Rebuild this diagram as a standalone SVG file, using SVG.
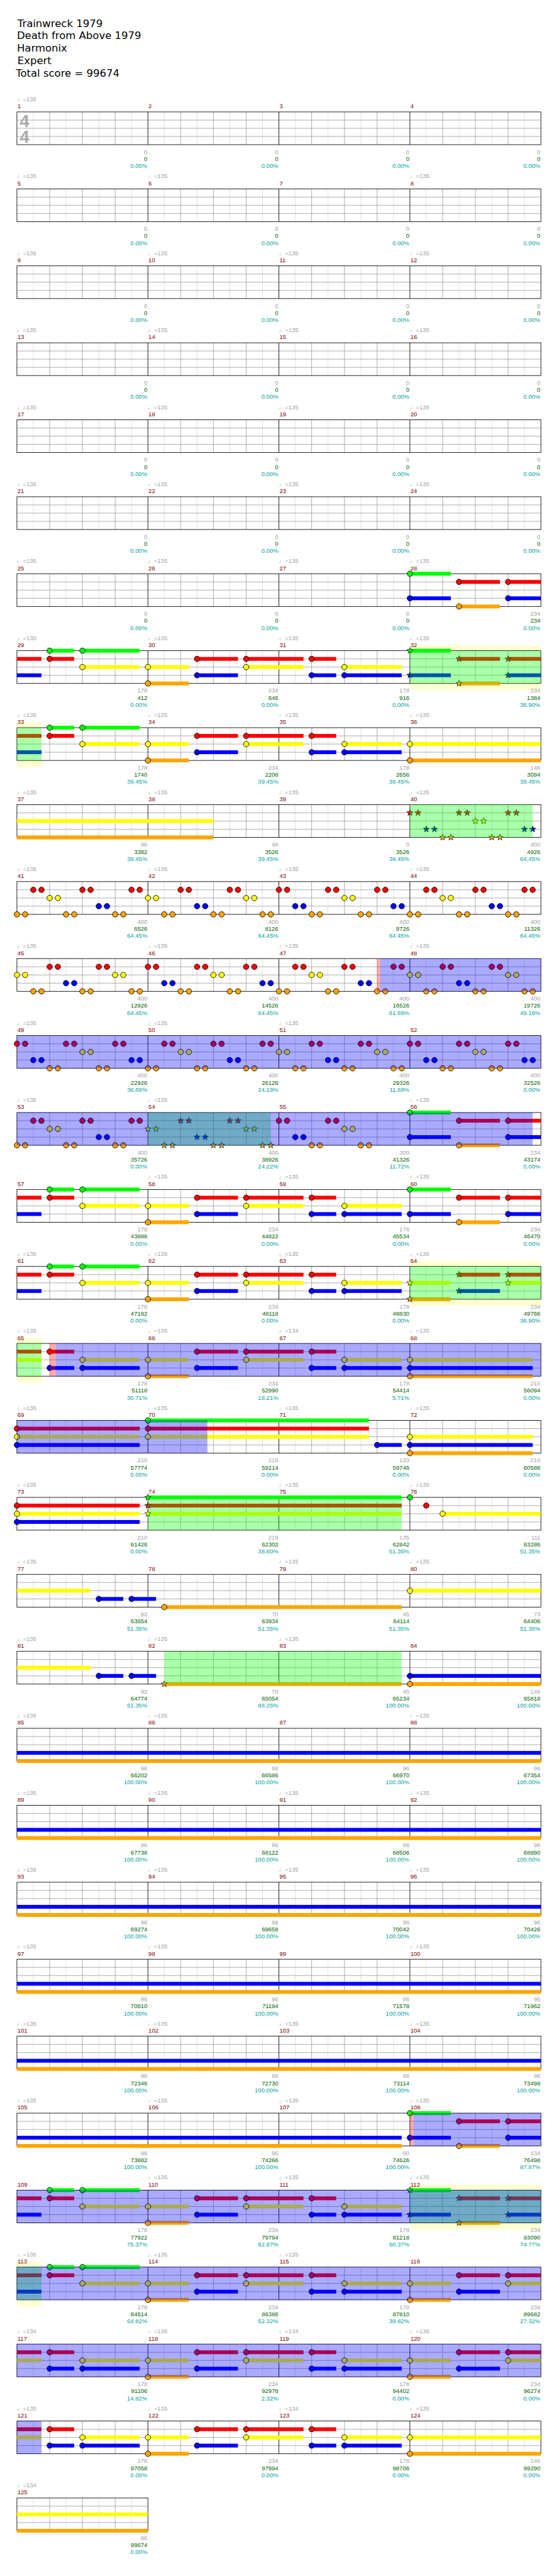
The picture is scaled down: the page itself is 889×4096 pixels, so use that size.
<svg xmlns="http://www.w3.org/2000/svg" width="889" height="4096" viewBox="0 0 889 4096">
<style>
text{font-family:"Liberation Sans","DejaVu Sans",sans-serif;font-size:11px}
.ti{font-family:"DejaVu Sans",sans-serif;font-size:19px;fill:#000}
.t{fill:#a0a0a0}
.m{fill:#800000}
.a{fill:#a0a0a0;text-anchor:end}
.b{fill:#006400;text-anchor:end}
.c{fill:#00a0a0;text-anchor:end}
.ts{font-size:32px;font-weight:bold;fill:#aaa}
.G{fill:#00ff00}.R{fill:#ff0000}.Y{fill:#ffff00}.B{fill:#0000ff}.O{fill:#ffa500}
.sp{fill:#00ff00;fill-opacity:.3333}
.od{fill:#0000ff;fill-opacity:.3333}
.pk{fill:#ff0000;fill-opacity:.3333}
.bd{fill:#ffffd0}
.hl{stroke:#dcdcdc;fill:none}
.bl{stroke:#a0a0a0;fill:none}
.ml{stroke:#000;fill:none}
</style>
<defs>
<circle id="n" r="5" stroke="#000" stroke-width="1"/>
<path id="s" d="M0,-6L1.47,-2.02L5.71,-1.85L2.38,0.77L3.53,4.85L0,2.5L-3.53,4.85L-2.38,0.77L-5.71,-1.85L-1.47,-2.02Z" stroke="#000" stroke-width="0.8"/>
<g id="st4">
<path class="hl" d="M61 0V60M121 0V60M181 0V60M241 0V60M301 0V60M361 0V60M421 0V60M481 0V60M541 0V60M601 0V60M661 0V60M721 0V60M781 0V60M841 0V60M901 0V60M961 0V60"/>
<path class="bl" d="M91 0V60M151 0V60M211 0V60M331 0V60M391 0V60M451 0V60M571 0V60M631 0V60M691 0V60M811 0V60M871 0V60M931 0V60M31 15H991M31 30H991M31 45H991"/>
<path class="ml" d="M271 0V60M511 0V60M751 0V60"/>
<rect class="ml" x="31" y="0" width="960" height="60"/>
</g>
<g id="st1">
<path class="hl" d="M61 0V60M121 0V60M181 0V60M241 0V60"/>
<path class="bl" d="M91 0V60M151 0V60M211 0V60M31 15H271M31 30H271M31 45H271"/>
<rect class="ml" x="31" y="0" width="240" height="60"/>
</g>
<g id="pO" class="O"><use href="#n" y="60"/><use href="#n" x="15" y="60"/></g>
<g id="pR" class="R"><use href="#n" y="15"/><use href="#n" x="15" y="15"/></g>
<g id="pY" class="Y"><use href="#n" y="30"/><use href="#n" x="15" y="30"/></g>
<g id="pB" class="B"><use href="#n" y="45"/><use href="#n" x="15" y="45"/></g>
<g id="qO" class="O"><use href="#s" y="60"/><use href="#s" x="15" y="60"/></g>
<g id="qR" class="R"><use href="#s" y="15"/><use href="#s" x="15" y="15"/></g>
<g id="qY" class="Y"><use href="#s" y="30"/><use href="#s" x="15" y="30"/></g>
<g id="qB" class="B"><use href="#s" y="45"/><use href="#s" x="15" y="45"/></g>
<g id="cRB"><rect class="R" x="31" y="11.5" width="45" height="7"/><rect class="B" x="31" y="41.5" width="45" height="7"/></g>
<g id="cRY"><rect class="R" x="31" y="11.5" width="45" height="7"/><rect class="Y" x="31" y="26.5" width="45" height="7"/></g>
<g id="h1">
<rect class="G" x="91" y="-3.5" width="45" height="7"/><rect class="R" x="91" y="11.5" width="45" height="7"/>
<rect class="G" x="151" y="-3.5" width="105" height="7"/><rect class="Y" x="151" y="26.5" width="105" height="7"/>
<use href="#n" class="G" x="91" y="0"/><use href="#n" class="R" x="91" y="15"/>
<use href="#n" class="G" x="151" y="0"/><use href="#n" class="Y" x="151" y="30"/>
</g>
<g id="h2">
<rect class="R" x="91" y="11.5" width="45" height="7"/><rect class="B" x="91" y="41.5" width="45" height="7"/>
<rect class="Y" x="151" y="26.5" width="105" height="7"/><rect class="B" x="151" y="41.5" width="105" height="7"/>
<use href="#n" class="R" x="91" y="15"/><use href="#n" class="B" x="91" y="45"/>
<use href="#n" class="Y" x="151" y="30"/><use href="#n" class="B" x="151" y="45"/>
</g>
<g id="b0">
<rect class="Y" x="271" y="26.5" width="75" height="7"/><rect class="O" x="271" y="56.5" width="75" height="7"/>
<rect class="R" x="361" y="11.5" width="75" height="7"/><rect class="B" x="361" y="41.5" width="75" height="7"/>
<rect class="R" x="451" y="11.5" width="105" height="7"/><rect class="Y" x="451" y="26.5" width="105" height="7"/>
<rect class="R" x="571" y="11.5" width="45" height="7"/><rect class="B" x="571" y="41.5" width="45" height="7"/>
<rect class="Y" x="631" y="26.5" width="105" height="7"/><rect class="B" x="631" y="41.5" width="105" height="7"/>
<use href="#n" class="Y" x="271" y="30"/><use href="#n" class="O" x="271" y="60"/>
<use href="#n" class="R" x="361" y="15"/><use href="#n" class="B" x="361" y="45"/>
<use href="#n" class="R" x="451" y="15"/><use href="#n" class="Y" x="451" y="30"/>
<use href="#n" class="R" x="571" y="15"/><use href="#n" class="B" x="571" y="45"/>
<use href="#n" class="Y" x="631" y="30"/><use href="#n" class="B" x="631" y="45"/>
</g>
<g id="e1b">
<rect class="G" x="751" y="-3.5" width="75" height="7"/><rect class="B" x="751" y="41.5" width="75" height="7"/>
<rect class="R" x="841" y="11.5" width="75" height="7"/><rect class="O" x="841" y="56.5" width="75" height="7"/>
<rect class="R" x="931" y="11.5" width="60" height="7"/><rect class="B" x="931" y="41.5" width="60" height="7"/>
</g>
<g id="e1n">
<use href="#n" class="G" x="751" y="0"/><use href="#n" class="B" x="751" y="45"/>
<use href="#n" class="R" x="841" y="15"/><use href="#n" class="O" x="841" y="60"/>
<use href="#n" class="R" x="931" y="15"/><use href="#n" class="B" x="931" y="45"/>
</g>
<g id="e1s">
<use href="#s" class="G" x="751" y="0"/><use href="#s" class="B" x="751" y="45"/>
<use href="#s" class="R" x="841" y="15"/><use href="#s" class="O" x="841" y="60"/>
<use href="#s" class="R" x="931" y="15"/><use href="#s" class="B" x="931" y="45"/>
</g>
<g id="e2">
<rect class="Y" x="751" y="26.5" width="240" height="7"/><rect class="O" x="751" y="56.5" width="240" height="7"/>
<use href="#n" class="Y" x="751" y="30"/><use href="#n" class="O" x="751" y="60"/>
</g>
<g id="e3b">
<rect class="Y" x="751" y="26.5" width="75" height="7"/><rect class="O" x="751" y="56.5" width="75" height="7"/>
<rect class="R" x="841" y="11.5" width="75" height="7"/><rect class="B" x="841" y="41.5" width="75" height="7"/>
<rect class="R" x="931" y="11.5" width="60" height="7"/><rect class="Y" x="931" y="26.5" width="60" height="7"/>
</g>
<g id="e3n">
<use href="#n" class="Y" x="751" y="30"/><use href="#n" class="O" x="751" y="60"/>
<use href="#n" class="R" x="841" y="15"/><use href="#n" class="B" x="841" y="45"/>
<use href="#n" class="R" x="931" y="15"/><use href="#n" class="Y" x="931" y="30"/>
</g>
<g id="e3s">
<use href="#s" class="Y" x="751" y="30"/><use href="#s" class="O" x="751" y="60"/>
<use href="#s" class="R" x="841" y="15"/><use href="#s" class="B" x="841" y="45"/>
<use href="#s" class="R" x="931" y="15"/><use href="#s" class="Y" x="931" y="30"/>
</g>
<g id="e4">
<rect class="Y" x="751" y="26.5" width="225" height="7"/><rect class="B" x="751" y="41.5" width="225" height="7"/><rect class="O" x="751" y="56.5" width="225" height="7"/>
<use href="#n" class="Y" x="751" y="30"/><use href="#n" class="B" x="751" y="45"/><use href="#n" class="O" x="751" y="60"/>
</g>
<g id="bo"><rect class="B" x="31" y="41.5" width="960" height="7"/><rect class="O" x="31" y="56.5" width="960" height="7"/></g>
</defs>
<rect width="889" height="4096" fill="#fff"/>
<g transform="scale(0.868)">
<g id="title">
<text class="ti" x="32" y="49">Trainwreck 1979</text>
<text class="ti" x="31" y="72">Death from Above 1979</text>
<text class="ti" x="31" y="95">Harmonix</text>
<text class="ti" x="32" y="118">Expert</text>
<text class="ti" x="29" y="141">Total score = 99674</text>
</g>

<g id="row1" transform="translate(0,205)">
<use href="#st4"/>
<text class="ts" x="36" y="28">4</text><text class="ts" x="36" y="57">4</text>
<text class="t" x="31" y="-19.5">♩=135</text>
<text class="m" x="32" y="-6.5">1</text><text class="m" x="272" y="-6.5">2</text><text class="m" x="512" y="-6.5">3</text><text class="m" x="752" y="-6.5">4</text>
<text class="a" x="270" y="77">0</text><text class="b" x="270" y="90">0</text><text class="c" x="270" y="103">0.00%</text>
<text class="a" x="510" y="77">0</text><text class="b" x="510" y="90">0</text><text class="c" x="510" y="103">0.00%</text>
<text class="a" x="750" y="77">0</text><text class="b" x="750" y="90">0</text><text class="c" x="750" y="103">0.00%</text>
<text class="a" x="990" y="77">0</text><text class="b" x="990" y="90">0</text><text class="c" x="990" y="103">0.00%</text>
</g>

<g id="row2" transform="translate(0,346)">
<use href="#st4"/>
<text class="t" x="31" y="-19.5">♩=135</text><text class="t" x="271" y="-19.5">♩=135</text><text class="t" x="751" y="-19.5">♩=135</text>
<text class="m" x="32" y="-6.5">5</text><text class="m" x="272" y="-6.5">6</text><text class="m" x="512" y="-6.5">7</text><text class="m" x="752" y="-6.5">8</text>
<text class="a" x="270" y="77">0</text><text class="b" x="270" y="90">0</text><text class="c" x="270" y="103">0.00%</text>
<text class="a" x="510" y="77">0</text><text class="b" x="510" y="90">0</text><text class="c" x="510" y="103">0.00%</text>
<text class="a" x="750" y="77">0</text><text class="b" x="750" y="90">0</text><text class="c" x="750" y="103">0.00%</text>
<text class="a" x="990" y="77">0</text><text class="b" x="990" y="90">0</text><text class="c" x="990" y="103">0.00%</text>
</g>

<g id="row3" transform="translate(0,487)">
<use href="#st4"/>
<text class="t" x="31" y="-19.5">♩=135</text><text class="t" x="271" y="-19.5">♩=135</text><text class="t" x="511" y="-19.5">♩=135</text><text class="t" x="751" y="-19.5">♩=135</text>
<text class="m" x="32" y="-6.5">9</text><text class="m" x="272" y="-6.5">10</text><text class="m" x="512" y="-6.5">11</text><text class="m" x="752" y="-6.5">12</text>
<text class="a" x="270" y="77">0</text><text class="b" x="270" y="90">0</text><text class="c" x="270" y="103">0.00%</text>
<text class="a" x="510" y="77">0</text><text class="b" x="510" y="90">0</text><text class="c" x="510" y="103">0.00%</text>
<text class="a" x="750" y="77">0</text><text class="b" x="750" y="90">0</text><text class="c" x="750" y="103">0.00%</text>
<text class="a" x="990" y="77">0</text><text class="b" x="990" y="90">0</text><text class="c" x="990" y="103">0.00%</text>
</g>

<g id="row4" transform="translate(0,628)">
<use href="#st4"/>
<text class="t" x="31" y="-19.5">♩=135</text><text class="t" x="271" y="-19.5">♩=135</text><text class="t" x="511" y="-19.5">♩=135</text><text class="t" x="751" y="-19.5">♩=135</text>
<text class="m" x="32" y="-6.5">13</text><text class="m" x="272" y="-6.5">14</text><text class="m" x="512" y="-6.5">15</text><text class="m" x="752" y="-6.5">16</text>
<text class="a" x="270" y="77">0</text><text class="b" x="270" y="90">0</text><text class="c" x="270" y="103">0.00%</text>
<text class="a" x="510" y="77">0</text><text class="b" x="510" y="90">0</text><text class="c" x="510" y="103">0.00%</text>
<text class="a" x="750" y="77">0</text><text class="b" x="750" y="90">0</text><text class="c" x="750" y="103">0.00%</text>
<text class="a" x="990" y="77">0</text><text class="b" x="990" y="90">0</text><text class="c" x="990" y="103">0.00%</text>
</g>

<g id="row5" transform="translate(0,769)">
<use href="#st4"/>
<text class="t" x="31" y="-19.5">♩=135</text><text class="t" x="271" y="-19.5">♩=135</text><text class="t" x="511" y="-19.5">♩=135</text><text class="t" x="751" y="-19.5">♩=135</text>
<text class="m" x="32" y="-6.5">17</text><text class="m" x="272" y="-6.5">18</text><text class="m" x="512" y="-6.5">19</text><text class="m" x="752" y="-6.5">20</text>
<text class="a" x="270" y="77">0</text><text class="b" x="270" y="90">0</text><text class="c" x="270" y="103">0.00%</text>
<text class="a" x="510" y="77">0</text><text class="b" x="510" y="90">0</text><text class="c" x="510" y="103">0.00%</text>
<text class="a" x="750" y="77">0</text><text class="b" x="750" y="90">0</text><text class="c" x="750" y="103">0.00%</text>
<text class="a" x="990" y="77">0</text><text class="b" x="990" y="90">0</text><text class="c" x="990" y="103">0.00%</text>
</g>

<g id="row6" transform="translate(0,910)">
<use href="#st4"/>
<text class="t" x="31" y="-19.5">♩=135</text><text class="t" x="271" y="-19.5">♩=135</text><text class="t" x="511" y="-19.5">♩=135</text><text class="t" x="751" y="-19.5">♩=135</text>
<text class="m" x="32" y="-6.5">21</text><text class="m" x="272" y="-6.5">22</text><text class="m" x="512" y="-6.5">23</text><text class="m" x="752" y="-6.5">24</text>
<text class="a" x="270" y="77">0</text><text class="b" x="270" y="90">0</text><text class="c" x="270" y="103">0.00%</text>
<text class="a" x="510" y="77">0</text><text class="b" x="510" y="90">0</text><text class="c" x="510" y="103">0.00%</text>
<text class="a" x="750" y="77">0</text><text class="b" x="750" y="90">0</text><text class="c" x="750" y="103">0.00%</text>
<text class="a" x="990" y="77">0</text><text class="b" x="990" y="90">0</text><text class="c" x="990" y="103">0.00%</text>
</g>

<g id="row7" transform="translate(0,1051)">
<use href="#st4"/>
<use href="#e1b"/><use href="#e1n"/>
<text class="t" x="31" y="-19.5">♩=135</text><text class="t" x="271" y="-19.5">♩=135</text><text class="t" x="511" y="-19.5">♩=135</text><text class="t" x="751" y="-19.5">♩=135</text>
<text class="m" x="32" y="-6.5">25</text><text class="m" x="272" y="-6.5">26</text><text class="m" x="512" y="-6.5">27</text><text class="m" x="752" y="-6.5">28</text>
<text class="a" x="270" y="77">0</text><text class="b" x="270" y="90">0</text><text class="c" x="270" y="103">0.00%</text>
<text class="a" x="510" y="77">0</text><text class="b" x="510" y="90">0</text><text class="c" x="510" y="103">0.00%</text>
<text class="a" x="750" y="77">0</text><text class="b" x="750" y="90">0</text><text class="c" x="750" y="103">0.00%</text>
<text class="a" x="990" y="77">234</text><text class="b" x="990" y="90">234</text><text class="c" x="990" y="103">0.00%</text>
</g>

<g id="row8" transform="translate(0,1192)">
<rect class="bd" x="751" y="-10" width="240" height="10"/><rect class="bd" x="751" y="60" width="240" height="12"/>
<use href="#st4"/>
<use href="#cRB"/><use href="#h1"/><use href="#b0"/><use href="#e1b"/><use href="#e1s"/>
<rect class="sp" x="751" y="0" width="240" height="60"/>
<text class="t" x="31" y="-19.5">♩=135</text><text class="t" x="271" y="-19.5">♩=135</text><text class="t" x="511" y="-19.5">♩=135</text><text class="t" x="751" y="-19.5">♩=135</text>
<text class="m" x="32" y="-6.5">29</text><text class="m" x="272" y="-6.5">30</text><text class="m" x="512" y="-6.5">31</text><text class="m" x="752" y="-6.5">32</text>
<text class="a" x="270" y="77">178</text><text class="b" x="270" y="90">412</text><text class="c" x="270" y="103">0.00%</text>
<text class="a" x="510" y="77">234</text><text class="b" x="510" y="90">646</text><text class="c" x="510" y="103">0.00%</text>
<text class="a" x="750" y="77">178</text><text class="b" x="750" y="90">916</text><text class="c" x="750" y="103">0.00%</text>
<text class="a" x="990" y="77">234</text><text class="b" x="990" y="90">1384</text><text class="c" x="990" y="103">36.90%</text>
</g>

<g id="row9" transform="translate(0,1333)">
<rect class="bd" x="31" y="-10" width="45" height="10"/><rect class="bd" x="31" y="60" width="45" height="12"/>
<use href="#st4"/>
<use href="#cRB"/><use href="#h1"/><use href="#b0"/><use href="#e2"/>
<rect class="sp" x="31" y="0" width="45" height="60"/>
<text class="t" x="31" y="-19.5">♩=135</text><text class="t" x="271" y="-19.5">♩=135</text><text class="t" x="511" y="-19.5">♩=135</text><text class="t" x="751" y="-19.5">♩=135</text>
<text class="m" x="32" y="-6.5">33</text><text class="m" x="272" y="-6.5">34</text><text class="m" x="512" y="-6.5">35</text><text class="m" x="752" y="-6.5">36</text>
<text class="a" x="270" y="77">178</text><text class="b" x="270" y="90">1740</text><text class="c" x="270" y="103">39.45%</text>
<text class="a" x="510" y="77">234</text><text class="b" x="510" y="90">2208</text><text class="c" x="510" y="103">39.45%</text>
<text class="a" x="750" y="77">178</text><text class="b" x="750" y="90">2656</text><text class="c" x="750" y="103">39.45%</text>
<text class="a" x="990" y="77">146</text><text class="b" x="990" y="90">3094</text><text class="c" x="990" y="103">39.45%</text>
</g>

<g id="row10" transform="translate(0,1474)">
<use href="#st4"/>
<rect class="Y" x="31" y="26.5" width="360" height="7"/><rect class="O" x="31" y="56.5" width="360" height="7"/>
<use href="#qR" x="751"/><use href="#qB" x="781"/><use href="#qO" x="811"/><use href="#qR" x="841"/><use href="#qY" x="871"/><use href="#qO" x="901"/><use href="#qR" x="931"/><use href="#qB" x="961"/>
<rect class="sp" x="751" y="0" width="225" height="60"/>
<text class="t" x="31" y="-19.5">♩=135</text><text class="t" x="271" y="-19.5">♩=135</text><text class="t" x="511" y="-19.5">♩=135</text><text class="t" x="751" y="-19.5">♩=135</text>
<text class="m" x="32" y="-6.5">37</text><text class="m" x="272" y="-6.5">38</text><text class="m" x="512" y="-6.5">39</text><text class="m" x="752" y="-6.5">40</text>
<text class="a" x="270" y="77">96</text><text class="b" x="270" y="90">3382</text><text class="c" x="270" y="103">39.45%</text>
<text class="a" x="510" y="77">48</text><text class="b" x="510" y="90">3526</text><text class="c" x="510" y="103">39.45%</text>
<text class="a" x="750" y="77">0</text><text class="b" x="750" y="90">3526</text><text class="c" x="750" y="103">39.45%</text>
<text class="a" x="990" y="77">400</text><text class="b" x="990" y="90">4926</text><text class="c" x="990" y="103">64.45%</text>
</g>

<g id="row11" transform="translate(0,1615)">
<use href="#st4"/>
<use href="#pO" x="31"/><use href="#pR" x="61"/><use href="#pY" x="91"/><use href="#pO" x="121"/><use href="#pR" x="151"/><use href="#pB" x="181"/><use href="#pO" x="211"/><use href="#pR" x="241"/>
<use href="#pY" x="271"/><use href="#pO" x="301"/><use href="#pR" x="331"/><use href="#pB" x="361"/><use href="#pO" x="391"/><use href="#pR" x="421"/><use href="#pY" x="451"/><use href="#pO" x="481"/>
<use href="#pR" x="511"/><use href="#pB" x="541"/><use href="#pO" x="571"/><use href="#pR" x="601"/><use href="#pY" x="631"/><use href="#pO" x="661"/><use href="#pR" x="691"/><use href="#pB" x="721"/>
<use href="#pO" x="751"/><use href="#pR" x="781"/><use href="#pY" x="811"/><use href="#pO" x="841"/><use href="#pR" x="871"/><use href="#pB" x="901"/><use href="#pO" x="931"/><use href="#pR" x="961"/>
<text class="t" x="31" y="-19.5">♩=135</text><text class="t" x="271" y="-19.5">♩=135</text><text class="t" x="511" y="-19.5">♩=135</text><text class="t" x="751" y="-19.5">♩=135</text>
<text class="m" x="32" y="-6.5">41</text><text class="m" x="272" y="-6.5">42</text><text class="m" x="512" y="-6.5">43</text><text class="m" x="752" y="-6.5">44</text>
<text class="a" x="270" y="77">400</text><text class="b" x="270" y="90">6526</text><text class="c" x="270" y="103">64.45%</text>
<text class="a" x="510" y="77">400</text><text class="b" x="510" y="90">8126</text><text class="c" x="510" y="103">64.45%</text>
<text class="a" x="750" y="77">400</text><text class="b" x="750" y="90">9726</text><text class="c" x="750" y="103">64.45%</text>
<text class="a" x="990" y="77">400</text><text class="b" x="990" y="90">11326</text><text class="c" x="990" y="103">64.45%</text>
</g>

<g id="row12" transform="translate(0,1756)">
<use href="#st4"/>
<use href="#pY" x="31"/><use href="#pO" x="61"/><use href="#pR" x="91"/><use href="#pB" x="121"/><use href="#pO" x="151"/><use href="#pR" x="181"/><use href="#pY" x="211"/><use href="#pO" x="241"/>
<use href="#pR" x="271"/><use href="#pB" x="301"/><use href="#pO" x="331"/><use href="#pR" x="361"/><use href="#pY" x="391"/><use href="#pO" x="421"/><use href="#pR" x="451"/><use href="#pB" x="481"/>
<use href="#pO" x="511"/><use href="#pR" x="541"/><use href="#pY" x="571"/><use href="#pO" x="601"/><use href="#pR" x="631"/><use href="#pB" x="661"/><use href="#pO" x="691"/><use href="#pR" x="721"/>
<use href="#pY" x="751"/><use href="#pO" x="781"/><use href="#pR" x="811"/><use href="#pB" x="841"/><use href="#pO" x="871"/><use href="#pR" x="901"/><use href="#pY" x="931"/><use href="#pO" x="961"/>
<rect class="pk" x="691" y="0" width="6" height="60"/><rect class="od" x="697" y="0" width="294" height="60"/>
<text class="t" x="31" y="-19.5">♩=135</text><text class="t" x="271" y="-19.5">♩=135</text><text class="t" x="511" y="-19.5">♩=135</text><text class="t" x="751" y="-19.5">♩=135</text>
<text class="m" x="32" y="-6.5">45</text><text class="m" x="272" y="-6.5">46</text><text class="m" x="512" y="-6.5">47</text><text class="m" x="752" y="-6.5">48</text>
<text class="a" x="270" y="77">400</text><text class="b" x="270" y="90">12926</text><text class="c" x="270" y="103">64.45%</text>
<text class="a" x="510" y="77">400</text><text class="b" x="510" y="90">14526</text><text class="c" x="510" y="103">64.45%</text>
<text class="a" x="750" y="77">400</text><text class="b" x="750" y="90">16526</text><text class="c" x="750" y="103">61.69%</text>
<text class="a" x="990" y="77">400</text><text class="b" x="990" y="90">19726</text><text class="c" x="990" y="103">49.19%</text>
</g>

<g id="row13" transform="translate(0,1897)">
<use href="#st4"/>
<use href="#pR" x="31"/><use href="#pB" x="61"/><use href="#pO" x="91"/><use href="#pR" x="121"/><use href="#pY" x="151"/><use href="#pO" x="181"/><use href="#pR" x="211"/><use href="#pB" x="241"/>
<use href="#pO" x="271"/><use href="#pR" x="301"/><use href="#pY" x="331"/><use href="#pO" x="361"/><use href="#pR" x="391"/><use href="#pB" x="421"/><use href="#pO" x="451"/><use href="#pR" x="481"/>
<use href="#pY" x="511"/><use href="#pO" x="541"/><use href="#pR" x="571"/><use href="#pB" x="601"/><use href="#pO" x="631"/><use href="#pR" x="661"/><use href="#pY" x="691"/><use href="#pO" x="721"/>
<use href="#pR" x="751"/><use href="#pB" x="781"/><use href="#pO" x="811"/><use href="#pR" x="841"/><use href="#pY" x="871"/><use href="#pO" x="901"/><use href="#pR" x="931"/><use href="#pB" x="961"/>
<rect class="od" x="31" y="0" width="960" height="60"/>
<text class="t" x="31" y="-19.5">♩=135</text><text class="t" x="271" y="-19.5">♩=135</text><text class="t" x="511" y="-19.5">♩=135</text>
<text class="m" x="32" y="-6.5">49</text><text class="m" x="272" y="-6.5">50</text><text class="m" x="512" y="-6.5">51</text><text class="m" x="752" y="-6.5">52</text>
<text class="a" x="270" y="77">400</text><text class="b" x="270" y="90">22926</text><text class="c" x="270" y="103">36.69%</text>
<text class="a" x="510" y="77">400</text><text class="b" x="510" y="90">26126</text><text class="c" x="510" y="103">24.19%</text>
<text class="a" x="750" y="77">400</text><text class="b" x="750" y="90">29326</text><text class="c" x="750" y="103">11.69%</text>
<text class="a" x="990" y="77">400</text><text class="b" x="990" y="90">32526</text><text class="c" x="990" y="103">0.00%</text>
</g>

<g id="row14" transform="translate(0,2038)">
<use href="#st4"/>
<use href="#pO" x="31"/><use href="#pR" x="61"/><use href="#pY" x="91"/><use href="#pO" x="121"/><use href="#pR" x="151"/><use href="#pB" x="181"/><use href="#pO" x="211"/><use href="#pR" x="241"/>
<use href="#qY" x="271"/><use href="#qO" x="301"/><use href="#qR" x="331"/><use href="#qB" x="361"/><use href="#qO" x="391"/><use href="#qR" x="421"/><use href="#qY" x="451"/><use href="#qO" x="481"/>
<use href="#pR" x="511"/><use href="#pB" x="541"/><use href="#pO" x="571"/><use href="#pR" x="601"/><use href="#pY" x="631"/><use href="#pO" x="661"/>
<use href="#e1b"/><use href="#e1n"/>
<rect class="sp" x="271" y="0" width="225" height="60"/>
<rect class="od" x="31" y="0" width="945" height="60"/>
<text class="t" x="31" y="-19.5">♩=135</text><text class="t" x="271" y="-19.5">♩=135</text><text class="t" x="751" y="-19.5">♩=135</text>
<text class="m" x="32" y="-6.5">53</text><text class="m" x="272" y="-6.5">54</text><text class="m" x="512" y="-6.5">55</text><text class="m" x="752" y="-6.5">56</text>
<text class="a" x="270" y="77">400</text><text class="b" x="270" y="90">35726</text><text class="c" x="270" y="103">0.00%</text>
<text class="a" x="510" y="77">400</text><text class="b" x="510" y="90">38926</text><text class="c" x="510" y="103">24.22%</text>
<text class="a" x="750" y="77">300</text><text class="b" x="750" y="90">41326</text><text class="c" x="750" y="103">11.72%</text>
<text class="a" x="990" y="77">234</text><text class="b" x="990" y="90">43174</text><text class="c" x="990" y="103">0.00%</text>
</g>

<g id="row15" transform="translate(0,2179)">
<use href="#st4"/>
<use href="#cRB"/><use href="#h1"/><use href="#b0"/><use href="#e1b"/><use href="#e1n"/>
<text class="t" x="271" y="-19.5">♩=135</text><text class="t" x="511" y="-19.5">♩=135</text><text class="t" x="751" y="-19.5">♩=135</text>
<text class="m" x="32" y="-6.5">57</text><text class="m" x="272" y="-6.5">58</text><text class="m" x="512" y="-6.5">59</text><text class="m" x="752" y="-6.5">60</text>
<text class="a" x="270" y="77">178</text><text class="b" x="270" y="90">43886</text><text class="c" x="270" y="103">0.00%</text>
<text class="a" x="510" y="77">234</text><text class="b" x="510" y="90">44822</text><text class="c" x="510" y="103">0.00%</text>
<text class="a" x="750" y="77">178</text><text class="b" x="750" y="90">45534</text><text class="c" x="750" y="103">0.00%</text>
<text class="a" x="990" y="77">234</text><text class="b" x="990" y="90">46470</text><text class="c" x="990" y="103">0.00%</text>
</g>

<g id="row16" transform="translate(0,2320)">
<rect class="bd" x="751" y="-10" width="240" height="10"/><rect class="bd" x="751" y="60" width="240" height="12"/>
<use href="#st4"/>
<use href="#cRB"/><use href="#h1"/><use href="#b0"/><use href="#e3b"/><use href="#e3s"/>
<rect class="sp" x="751" y="0" width="240" height="60"/>
<text class="t" x="31" y="-19.5">♩=135</text><text class="t" x="271" y="-19.5">♩=135</text><text class="t" x="511" y="-19.5">♩=135</text><text class="t" x="751" y="-19.5">♩=136</text>
<text class="m" x="32" y="-6.5">61</text><text class="m" x="272" y="-6.5">62</text><text class="m" x="512" y="-6.5">63</text><text class="m" x="752" y="-6.5">64</text>
<text class="a" x="270" y="77">178</text><text class="b" x="270" y="90">47182</text><text class="c" x="270" y="103">0.00%</text>
<text class="a" x="510" y="77">234</text><text class="b" x="510" y="90">48118</text><text class="c" x="510" y="103">0.00%</text>
<text class="a" x="750" y="77">178</text><text class="b" x="750" y="90">48830</text><text class="c" x="750" y="103">0.00%</text>
<text class="a" x="990" y="77">234</text><text class="b" x="990" y="90">49766</text><text class="c" x="990" y="103">36.90%</text>
</g>

<g id="row17" transform="translate(0,2461)">
<rect class="bd" x="31" y="-10" width="45" height="10"/><rect class="bd" x="31" y="60" width="45" height="12"/>
<use href="#st4"/>
<use href="#cRY"/><use href="#h2"/><use href="#b0"/><use href="#e4"/>
<rect class="sp" x="31" y="0" width="45" height="60"/>
<rect class="pk" x="91" y="0" width="11" height="60"/><rect class="od" x="102" y="0" width="889" height="60"/>
<text class="t" x="31" y="-19.5">♩=135</text><text class="t" x="271" y="-19.5">♩=135</text><text class="t" x="511" y="-19.5">♩=134</text><text class="t" x="751" y="-19.5">♩=135</text>
<text class="m" x="32" y="-6.5">65</text><text class="m" x="272" y="-6.5">66</text><text class="m" x="512" y="-6.5">67</text><text class="m" x="752" y="-6.5">68</text>
<text class="a" x="270" y="77">178</text><text class="b" x="270" y="90">51118</text><text class="c" x="270" y="103">30.71%</text>
<text class="a" x="510" y="77">234</text><text class="b" x="510" y="90">52990</text><text class="c" x="510" y="103">18.21%</text>
<text class="a" x="750" y="77">178</text><text class="b" x="750" y="90">54414</text><text class="c" x="750" y="103">5.71%</text>
<text class="a" x="990" y="77">210</text><text class="b" x="990" y="90">56094</text><text class="c" x="990" y="103">0.00%</text>
</g>

<g id="row18" transform="translate(0,2602)">
<use href="#st4"/>
<rect class="R" x="31" y="11.5" width="225" height="7"/><rect class="Y" x="31" y="26.5" width="225" height="7"/><rect class="B" x="31" y="41.5" width="225" height="7"/>
<use href="#n" class="R" x="31" y="15"/><use href="#n" class="Y" x="31" y="30"/><use href="#n" class="B" x="31" y="45"/>
<rect class="G" x="271" y="-3.5" width="405" height="7"/><rect class="R" x="271" y="11.5" width="405" height="7"/><rect class="Y" x="271" y="26.5" width="405" height="7"/>
<use href="#n" class="G" x="271" y="0"/><use href="#n" class="R" x="271" y="15"/><use href="#n" class="Y" x="271" y="30"/>
<rect class="B" x="691" y="41.5" width="45" height="7"/><use href="#n" class="B" x="691" y="45"/>
<use href="#e4"/>
<rect class="od" x="31" y="0" width="349" height="60"/>
<text class="t" x="31" y="-19.5">♩=135</text><text class="t" x="271" y="-19.5">♩=135</text><text class="t" x="511" y="-19.5">♩=135</text><text class="t" x="751" y="-19.5">♩=135</text>
<text class="m" x="32" y="-6.5">69</text><text class="m" x="272" y="-6.5">70</text><text class="m" x="512" y="-6.5">71</text><text class="m" x="752" y="-6.5">72</text>
<text class="a" x="270" y="77">210</text><text class="b" x="270" y="90">57774</text><text class="c" x="270" y="103">0.00%</text>
<text class="a" x="510" y="77">219</text><text class="b" x="510" y="90">59214</text><text class="c" x="510" y="103">0.00%</text>
<text class="a" x="750" y="77">133</text><text class="b" x="750" y="90">59746</text><text class="c" x="750" y="103">0.00%</text>
<text class="a" x="990" y="77">210</text><text class="b" x="990" y="90">60586</text><text class="c" x="990" y="103">0.00%</text>
</g>

<g id="row19" transform="translate(0,2743)">
<use href="#st4"/>
<rect class="R" x="31" y="11.5" width="225" height="7"/><rect class="Y" x="31" y="26.5" width="225" height="7"/><rect class="B" x="31" y="41.5" width="225" height="7"/>
<use href="#n" class="R" x="31" y="15"/><use href="#n" class="Y" x="31" y="30"/><use href="#n" class="B" x="31" y="45"/>
<rect class="G" x="271" y="-3.5" width="465" height="7"/><rect class="R" x="271" y="11.5" width="465" height="7"/><rect class="Y" x="271" y="26.5" width="465" height="7"/>
<use href="#s" class="G" x="271" y="0"/><use href="#s" class="R" x="271" y="15"/><use href="#s" class="Y" x="271" y="30"/>
<use href="#n" class="G" x="751" y="0"/><use href="#n" class="R" x="781" y="15"/>
<rect class="Y" x="811" y="26.5" width="180" height="7"/><use href="#n" class="Y" x="811" y="30"/>
<rect class="sp" x="271" y="0" width="465" height="60"/>
<text class="t" x="31" y="-19.5">♩=135</text><text class="t" x="511" y="-19.5">♩=135</text><text class="t" x="751" y="-19.5">♩=135</text>
<text class="m" x="32" y="-6.5">73</text><text class="m" x="272" y="-6.5">74</text><text class="m" x="512" y="-6.5">75</text><text class="m" x="752" y="-6.5">76</text>
<text class="a" x="270" y="77">210</text><text class="b" x="270" y="90">61426</text><text class="c" x="270" y="103">0.00%</text>
<text class="a" x="510" y="77">219</text><text class="b" x="510" y="90">62302</text><text class="c" x="510" y="103">38.60%</text>
<text class="a" x="750" y="77">135</text><text class="b" x="750" y="90">62842</text><text class="c" x="750" y="103">51.35%</text>
<text class="a" x="990" y="77">111</text><text class="b" x="990" y="90">63286</text><text class="c" x="990" y="103">51.35%</text>
</g>

<g id="row20" transform="translate(0,2884)">
<use href="#st4"/>
<rect class="Y" x="31" y="26.5" width="135" height="7"/>
<rect class="B" x="181" y="41.5" width="45" height="7"/><use href="#n" class="B" x="181" y="45"/>
<rect class="B" x="241" y="41.5" width="45" height="7"/><use href="#n" class="B" x="241" y="45"/>
<rect class="O" x="301" y="56.5" width="435" height="7"/><use href="#n" class="O" x="301" y="60"/>
<rect class="Y" x="751" y="26.5" width="240" height="7"/><use href="#n" class="Y" x="751" y="30"/>
<text class="t" x="31" y="-19.5">♩=135</text><text class="t" x="511" y="-19.5">♩=135</text><text class="t" x="751" y="-19.5">♩=135</text>
<text class="m" x="32" y="-6.5">77</text><text class="m" x="272" y="-6.5">78</text><text class="m" x="512" y="-6.5">79</text><text class="m" x="752" y="-6.5">80</text>
<text class="a" x="270" y="77">92</text><text class="b" x="270" y="90">63654</text><text class="c" x="270" y="103">51.35%</text>
<text class="a" x="510" y="77">70</text><text class="b" x="510" y="90">63934</text><text class="c" x="510" y="103">51.35%</text>
<text class="a" x="750" y="77">45</text><text class="b" x="750" y="90">64114</text><text class="c" x="750" y="103">51.35%</text>
<text class="a" x="990" y="77">73</text><text class="b" x="990" y="90">64406</text><text class="c" x="990" y="103">51.35%</text>
</g>

<g id="row21" transform="translate(0,3025)">
<use href="#st4"/>
<rect class="Y" x="31" y="26.5" width="135" height="7"/>
<rect class="B" x="181" y="41.5" width="45" height="7"/><use href="#n" class="B" x="181" y="45"/>
<rect class="B" x="241" y="41.5" width="45" height="7"/><use href="#n" class="B" x="241" y="45"/>
<rect class="O" x="301" y="56.5" width="435" height="7"/><use href="#s" class="O" x="301" y="60"/>
<rect class="B" x="751" y="41.5" width="240" height="7"/><rect class="O" x="751" y="56.5" width="240" height="7"/>
<use href="#n" class="B" x="751" y="45"/><use href="#n" class="O" x="751" y="60"/>
<rect class="sp" x="301" y="0" width="435" height="60"/>
<text class="t" x="31" y="-19.5">♩=135</text><text class="t" x="271" y="-19.5">♩=135</text><text class="t" x="511" y="-19.5">♩=135</text>
<text class="m" x="32" y="-6.5">81</text><text class="m" x="272" y="-6.5">82</text><text class="m" x="512" y="-6.5">83</text><text class="m" x="752" y="-6.5">84</text>
<text class="a" x="270" y="77">92</text><text class="b" x="270" y="90">64774</text><text class="c" x="270" y="103">51.35%</text>
<text class="a" x="510" y="77">70</text><text class="b" x="510" y="90">65054</text><text class="c" x="510" y="103">88.25%</text>
<text class="a" x="750" y="77">45</text><text class="b" x="750" y="90">65234</text><text class="c" x="750" y="103">100.00%</text>
<text class="a" x="990" y="77">146</text><text class="b" x="990" y="90">65818</text><text class="c" x="990" y="103">100.00%</text>
</g>

<g id="row22" transform="translate(0,3166)">
<use href="#st4"/><use href="#bo"/>
<text class="t" x="31" y="-19.5">♩=135</text><text class="t" x="271" y="-19.5">♩=135</text><text class="t" x="751" y="-19.5">♩=135</text>
<text class="m" x="32" y="-6.5">85</text><text class="m" x="272" y="-6.5">86</text><text class="m" x="512" y="-6.5">87</text><text class="m" x="752" y="-6.5">88</text>
<text class="a" x="270" y="77">96</text><text class="b" x="270" y="90">66202</text><text class="c" x="270" y="103">100.00%</text>
<text class="a" x="510" y="77">96</text><text class="b" x="510" y="90">66586</text><text class="c" x="510" y="103">100.00%</text>
<text class="a" x="750" y="77">96</text><text class="b" x="750" y="90">66970</text><text class="c" x="750" y="103">100.00%</text>
<text class="a" x="990" y="77">96</text><text class="b" x="990" y="90">67354</text><text class="c" x="990" y="103">100.00%</text>
</g>

<g id="row23" transform="translate(0,3307)">
<use href="#st4"/><use href="#bo"/>
<text class="t" x="31" y="-19.5">♩=135</text><text class="t" x="271" y="-19.5">♩=135</text><text class="t" x="511" y="-19.5">♩=135</text><text class="t" x="751" y="-19.5">♩=135</text>
<text class="m" x="32" y="-6.5">89</text><text class="m" x="272" y="-6.5">90</text><text class="m" x="512" y="-6.5">91</text><text class="m" x="752" y="-6.5">92</text>
<text class="a" x="270" y="77">96</text><text class="b" x="270" y="90">67738</text><text class="c" x="270" y="103">100.00%</text>
<text class="a" x="510" y="77">96</text><text class="b" x="510" y="90">68122</text><text class="c" x="510" y="103">100.00%</text>
<text class="a" x="750" y="77">96</text><text class="b" x="750" y="90">68506</text><text class="c" x="750" y="103">100.00%</text>
<text class="a" x="990" y="77">96</text><text class="b" x="990" y="90">68890</text><text class="c" x="990" y="103">100.00%</text>
</g>

<g id="row24" transform="translate(0,3448)">
<use href="#st4"/><use href="#bo"/>
<text class="t" x="31" y="-19.5">♩=135</text><text class="t" x="271" y="-19.5">♩=135</text><text class="t" x="511" y="-19.5">♩=135</text><text class="t" x="751" y="-19.5">♩=135</text>
<text class="m" x="32" y="-6.5">93</text><text class="m" x="272" y="-6.5">94</text><text class="m" x="512" y="-6.5">95</text><text class="m" x="752" y="-6.5">96</text>
<text class="a" x="270" y="77">96</text><text class="b" x="270" y="90">69274</text><text class="c" x="270" y="103">100.00%</text>
<text class="a" x="510" y="77">96</text><text class="b" x="510" y="90">69658</text><text class="c" x="510" y="103">100.00%</text>
<text class="a" x="750" y="77">96</text><text class="b" x="750" y="90">70042</text><text class="c" x="750" y="103">100.00%</text>
<text class="a" x="990" y="77">96</text><text class="b" x="990" y="90">70426</text><text class="c" x="990" y="103">100.00%</text>
</g>

<g id="row25" transform="translate(0,3589)">
<use href="#st4"/><use href="#bo"/>
<text class="t" x="31" y="-19.5">♩=135</text><text class="t" x="271" y="-19.5">♩=135</text><text class="t" x="751" y="-19.5">♩=135</text>
<text class="m" x="32" y="-6.5">97</text><text class="m" x="272" y="-6.5">98</text><text class="m" x="512" y="-6.5">99</text><text class="m" x="752" y="-6.5">100</text>
<text class="a" x="270" y="77">96</text><text class="b" x="270" y="90">70810</text><text class="c" x="270" y="103">100.00%</text>
<text class="a" x="510" y="77">96</text><text class="b" x="510" y="90">71194</text><text class="c" x="510" y="103">100.00%</text>
<text class="a" x="750" y="77">96</text><text class="b" x="750" y="90">71578</text><text class="c" x="750" y="103">100.00%</text>
<text class="a" x="990" y="77">96</text><text class="b" x="990" y="90">71962</text><text class="c" x="990" y="103">100.00%</text>
</g>

<g id="row26" transform="translate(0,3730)">
<use href="#st4"/><use href="#bo"/>
<text class="t" x="31" y="-19.5">♩=135</text><text class="t" x="271" y="-19.5">♩=135</text><text class="t" x="511" y="-19.5">♩=135</text><text class="t" x="751" y="-19.5">♩=135</text>
<text class="m" x="32" y="-6.5">101</text><text class="m" x="272" y="-6.5">102</text><text class="m" x="512" y="-6.5">103</text><text class="m" x="752" y="-6.5">104</text>
<text class="a" x="270" y="77">96</text><text class="b" x="270" y="90">72346</text><text class="c" x="270" y="103">100.00%</text>
<text class="a" x="510" y="77">96</text><text class="b" x="510" y="90">72730</text><text class="c" x="510" y="103">100.00%</text>
<text class="a" x="750" y="77">96</text><text class="b" x="750" y="90">73114</text><text class="c" x="750" y="103">100.00%</text>
<text class="a" x="990" y="77">96</text><text class="b" x="990" y="90">73498</text><text class="c" x="990" y="103">100.00%</text>
</g>

<g id="row27" transform="translate(0,3871)">
<use href="#st4"/>
<rect class="B" x="31" y="41.5" width="705" height="7"/><rect class="O" x="31" y="56.5" width="705" height="7"/>
<use href="#e1b"/><use href="#e1n"/>
<rect class="pk" x="751" y="0" width="6.5" height="60"/><rect class="od" x="757.5" y="0" width="233.5" height="60"/>
<text class="t" x="31" y="-19.5">♩=135</text><text class="t" x="271" y="-19.5">♩=135</text><text class="t" x="511" y="-19.5">♩=135</text><text class="t" x="751" y="-19.5">♩=135</text>
<text class="m" x="32" y="-6.5">105</text><text class="m" x="272" y="-6.5">106</text><text class="m" x="512" y="-6.5">107</text><text class="m" x="752" y="-6.5">108</text>
<text class="a" x="270" y="77">96</text><text class="b" x="270" y="90">73882</text><text class="c" x="270" y="103">100.00%</text>
<text class="a" x="510" y="77">96</text><text class="b" x="510" y="90">74266</text><text class="c" x="510" y="103">100.00%</text>
<text class="a" x="750" y="77">90</text><text class="b" x="750" y="90">74626</text><text class="c" x="750" y="103">100.00%</text>
<text class="a" x="990" y="77">234</text><text class="b" x="990" y="90">76498</text><text class="c" x="990" y="103">87.87%</text>
</g>

<g id="row28" transform="translate(0,4012)">
<rect class="bd" x="751" y="-10" width="240" height="10"/><rect class="bd" x="751" y="60" width="240" height="12"/>
<use href="#st4"/>
<use href="#cRB"/><use href="#h1"/><use href="#b0"/><use href="#e1b"/><use href="#e1s"/>
<rect class="sp" x="751" y="0" width="240" height="60"/>
<rect class="od" x="31" y="0" width="960" height="60"/>
<text class="t" x="271" y="-19.5">♩=135</text><text class="t" x="511" y="-19.5">♩=135</text><text class="t" x="751" y="-19.5">♩=135</text>
<text class="m" x="32" y="-6.5">109</text><text class="m" x="272" y="-6.5">110</text><text class="m" x="512" y="-6.5">111</text><text class="m" x="752" y="-6.5">112</text>
<text class="a" x="270" y="77">178</text><text class="b" x="270" y="90">77922</text><text class="c" x="270" y="103">75.37%</text>
<text class="a" x="510" y="77">234</text><text class="b" x="510" y="90">79794</text><text class="c" x="510" y="103">62.87%</text>
<text class="a" x="750" y="77">178</text><text class="b" x="750" y="90">81218</text><text class="c" x="750" y="103">50.37%</text>
<text class="a" x="990" y="77">234</text><text class="b" x="990" y="90">83090</text><text class="c" x="990" y="103">74.77%</text>
</g>

<g id="row29" transform="translate(0,4153)">
<rect class="bd" x="31" y="-10" width="45" height="10"/><rect class="bd" x="31" y="60" width="45" height="12"/>
<use href="#st4"/>
<use href="#cRB"/><use href="#h1"/><use href="#b0"/><use href="#e3b"/><use href="#e3n"/>
<rect class="sp" x="31" y="0" width="45" height="60"/>
<rect class="od" x="31" y="0" width="960" height="60"/>
<text class="t" x="31" y="-19.5">♩=135</text><text class="t" x="271" y="-19.5">♩=135</text><text class="t" x="511" y="-19.5">♩=135</text>
<text class="m" x="32" y="-6.5">113</text><text class="m" x="272" y="-6.5">114</text><text class="m" x="512" y="-6.5">115</text><text class="m" x="752" y="-6.5">116</text>
<text class="a" x="270" y="77">178</text><text class="b" x="270" y="90">84514</text><text class="c" x="270" y="103">64.82%</text>
<text class="a" x="510" y="77">234</text><text class="b" x="510" y="90">86386</text><text class="c" x="510" y="103">52.32%</text>
<text class="a" x="750" y="77">178</text><text class="b" x="750" y="90">87810</text><text class="c" x="750" y="103">39.82%</text>
<text class="a" x="990" y="77">234</text><text class="b" x="990" y="90">89682</text><text class="c" x="990" y="103">27.32%</text>
</g>

<g id="row30" transform="translate(0,4294)">
<use href="#st4"/>
<use href="#cRY"/><use href="#h2"/><use href="#b0"/><use href="#e3b"/><use href="#e3n"/>
<rect class="od" x="31" y="0" width="960" height="60"/>
<text class="t" x="31" y="-19.5">♩=134</text><text class="t" x="271" y="-19.5">♩=136</text><text class="t" x="511" y="-19.5">♩=134</text><text class="t" x="751" y="-19.5">♩=136</text>
<text class="m" x="32" y="-6.5">117</text><text class="m" x="272" y="-6.5">118</text><text class="m" x="512" y="-6.5">119</text><text class="m" x="752" y="-6.5">120</text>
<text class="a" x="270" y="77">178</text><text class="b" x="270" y="90">91106</text><text class="c" x="270" y="103">14.82%</text>
<text class="a" x="510" y="77">234</text><text class="b" x="510" y="90">92978</text><text class="c" x="510" y="103">2.32%</text>
<text class="a" x="750" y="77">178</text><text class="b" x="750" y="90">94402</text><text class="c" x="750" y="103">0.00%</text>
<text class="a" x="990" y="77">234</text><text class="b" x="990" y="90">96274</text><text class="c" x="990" y="103">0.00%</text>
</g>

<g id="row31" transform="translate(0,4435)">
<use href="#st4"/>
<use href="#cRY"/><use href="#h2"/><use href="#b0"/><use href="#e2"/>
<rect class="od" x="31" y="0" width="45" height="60"/>
<text class="t" x="31" y="-19.5">♩=135</text><text class="t" x="271" y="-19.5">♩=135</text><text class="t" x="511" y="-19.5">♩=134</text><text class="t" x="751" y="-19.5">♩=135</text>
<text class="m" x="32" y="-6.5">121</text><text class="m" x="272" y="-6.5">122</text><text class="m" x="512" y="-6.5">123</text><text class="m" x="752" y="-6.5">124</text>
<text class="a" x="270" y="77">178</text><text class="b" x="270" y="90">97058</text><text class="c" x="270" y="103">0.00%</text>
<text class="a" x="510" y="77">234</text><text class="b" x="510" y="90">97994</text><text class="c" x="510" y="103">0.00%</text>
<text class="a" x="750" y="77">178</text><text class="b" x="750" y="90">98706</text><text class="c" x="750" y="103">0.00%</text>
<text class="a" x="990" y="77">146</text><text class="b" x="990" y="90">99290</text><text class="c" x="990" y="103">0.00%</text>
</g>

<g id="row32" transform="translate(0,4576)">
<use href="#st1"/>
<rect class="Y" x="31" y="26.5" width="240" height="7"/><rect class="O" x="31" y="56.5" width="240" height="7"/>
<text class="t" x="31" y="-19.5">♩=134</text>
<text class="m" x="32" y="-6.5">125</text>
<text class="a" x="270" y="77">96</text><text class="b" x="270" y="90">99674</text><text class="c" x="270" y="103">0.00%</text>
</g>
</g>
</svg>
